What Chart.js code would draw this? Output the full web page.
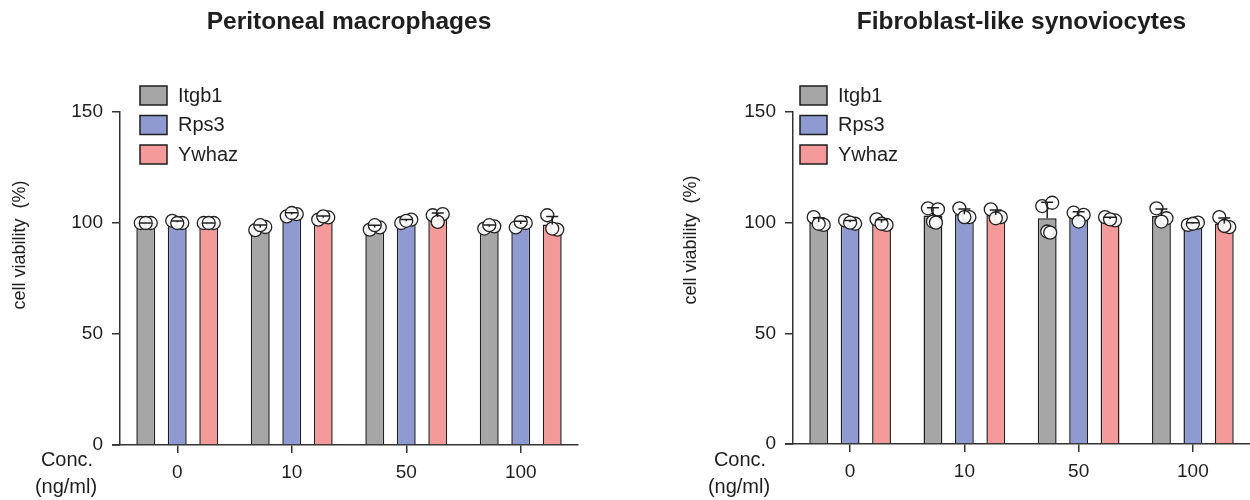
<!DOCTYPE html>
<html>
<head>
<meta charset="utf-8">
<script src="https://cdn.jsdelivr.net/npm/chart.js@4"></script>
<style>
  html, body { margin: 0; padding: 0; background: #fff; }
  #wrap { position: relative; width: 1250px; height: 500px; }
  canvas { position: absolute; top: 0; }
  #mac { left: 0; }
  #fls { left: 625px; }
</style>
</head>
<body>
<div id="wrap">
  <canvas id="mac" width="625" height="500"></canvas>
  <canvas id="fls" width="625" height="500"></canvas>
</div>
<script>
const categories = ['0', '10', '50', '100'];
const seriesNames = ['Itgb1', 'Rps3', 'Ywhaz'];
const yTicks = [0, 50, 100, 150];

// replicate values (% viability) per concentration
const macItgb1 = [[100, 100, 100], [96.8, 98.2, 99], [97, 98, 99], [97.5, 98.5, 99]];
const macRps3 = [[101, 100, 100], [103, 104, 104.5], [100, 101.5, 101], [98, 100, 100.5]];
const macYwhaz = [[100, 100, 100], [101.5, 102.5, 103], [103.5, 104, 100.5], [103.5, 97, 97.5]];

const flsItgb1 = [[102.5, 99, 99.5], [106.5, 106, 100.5, 100], [107.5, 109, 96, 95.5], [106.5, 102, 100.5]];
const flsRps3 = [[101, 99.5, 100], [106.5, 102.5, 102.5], [104.5, 103.5, 100.5], [99, 100, 99.5]];
const flsYwhaz = [[101.5, 99, 99.5], [106, 102.5, 102], [102.5, 101, 101.5], [102.5, 98, 98.5]];

const colors = ['#a6a6a6', '#8f9bd0', '#f59a9a'];
const ink = '#1e1e1e';
const font = '"Liberation Sans", Arial, sans-serif';
const jitter = [-5, 5, 0, 3];

function mean(arr) {
    return arr.reduce((a, b) => a + b, 0) / arr.length;
}

function sd(arr) {
    const m = mean(arr);
    const ss = arr.reduce((a, b) => a + (b - m) * (b - m), 0);
    return Math.sqrt(ss / (arr.length - 1));
}

// dots, error bars, legend and the free text around the axes
const panelDecor = {
    id: 'panelDecor',
    afterDatasetsDraw(chart) {
        const c = chart.ctx;
        const yScale = chart.scales.y;
        chart.data.datasets.forEach((ds, i) => {
            const meta = chart.getDatasetMeta(i);
            ds.replicates.forEach((reps, j) => {
                const bx = meta.data[j].x;
                c.save();
                reps.forEach((v, k) => {
                    c.beginPath();
                    c.arc(bx + jitter[k], yScale.getPixelForValue(v), 6.5, 0, Math.PI * 2);
                    c.fillStyle = 'rgba(255,255,255,0.9)';
                    c.fill();
                    c.lineWidth = 1.3;
                    c.strokeStyle = '#222';
                    c.stroke();
                });
                const m = mean(reps);
                const top = yScale.getPixelForValue(m + sd(reps));
                const base = yScale.getPixelForValue(m);
                c.strokeStyle = ink;
                c.lineWidth = 1.5;
                c.beginPath();
                c.moveTo(bx, base);
                c.lineTo(bx, top);
                c.moveTo(bx - 6, top);
                c.lineTo(bx + 6, top);
                c.stroke();
                c.restore();
            });
        });
    },
    afterDraw(chart, args, opts) {
        const c = chart.ctx;
        const area = chart.chartArea;
        c.save();
        c.fillStyle = ink;

        // title
        c.font = 'bold 24.5px ' + font;
        c.textAlign = 'center';
        c.textBaseline = 'middle';
        c.fillText(opts.title, (area.left + area.right) / 2, 22);

        // x axis runs a little past the y axis
        c.strokeStyle = '#333';
        c.lineWidth = 1.5;
        c.beginPath();
        c.moveTo(area.left - 8, area.bottom);
        c.lineTo(area.left, area.bottom);
        c.stroke();

        // y axis title
        c.save();
        c.translate(opts.yTitleX, opts.yTitleY);
        c.rotate(-Math.PI / 2);
        c.font = '18px ' + font;
        c.fillText('cell viability  (%)', 0, 0);
        c.restore();

        // x axis caption
        c.font = '20px ' + font;
        c.fillText('Conc.', area.left - 53, 460);
        c.fillText('(ng/ml)', area.left - 54, 487);

        // legend
        c.textAlign = 'left';
        c.font = '20px ' + font;
        chart.data.datasets.forEach((ds, i) => {
            const y = 86 + i * 29.5;
            c.fillStyle = ds.backgroundColor;
            c.fillRect(opts.legendX, y, 27, 19);
            c.strokeStyle = ink;
            c.lineWidth = 1.5;
            c.strokeRect(opts.legendX, y, 27, 19);
            c.fillStyle = ink;
            c.fillText(ds.label, opts.legendX + 38, y + 10);
        });
        c.restore();
    }
};

function makePanel(id, sets, layout) {
    const datasets = sets.map((reps, i) => ({
        label: seriesNames[i],
        data: reps.map(mean),
        replicates: reps,
        backgroundColor: colors[i],
        borderColor: ink,
        borderWidth: 1.5,
        categoryPercentage: 0.825,
        barPercentage: 0.6
    }));
    return new Chart(document.getElementById(id), {
        type: 'bar',
        data: { labels: categories, datasets: datasets },
        plugins: [panelDecor],
        options: {
            responsive: false,
            animation: false,
            layout: { padding: { top: 112, right: layout.right, left: 0, bottom: 0 } },
            plugins: {
                legend: { display: false },
                tooltip: { enabled: false },
                panelDecor: layout
            },
            scales: {
                x: {
                    offset: true,
                    grid: { offset: false, drawOnChartArea: false, tickLength: 8, color: '#333', lineWidth: 1.5 },
                    border: { color: '#333', width: 1.5 },
                    ticks: { color: ink, font: { family: font, size: 19 }, padding: 8 },
                    afterFit: (s) => { s.height = layout.xHeight; }
                },
                y: {
                    min: 0,
                    max: 150,
                    afterBuildTicks: (s) => { s.ticks = yTicks.map(v => ({ value: v })); },
                    grid: { drawOnChartArea: false, tickLength: 8, color: '#333', lineWidth: 1.5 },
                    border: { color: '#333', width: 1.5 },
                    ticks: { color: ink, font: { family: font, size: 19 }, padding: 9 },
                    afterFit: (s) => { s.width = layout.yWidth; }
                }
            }
        }
    });
}

makePanel('mac', [macItgb1, macRps3, macYwhaz], {
    title: 'Peritoneal macrophages',
    right: 47, yWidth: 120, xHeight: 55,
    yTitleX: 20, yTitleY: 245, legendX: 140
});
makePanel('fls', [flsItgb1, flsRps3, flsYwhaz], {
    title: 'Fibroblast-like synoviocytes',
    right: 0, yWidth: 168, xHeight: 56,
    yTitleX: 66, yTitleY: 240, legendX: 175
});
</script>
</body>
</html>
